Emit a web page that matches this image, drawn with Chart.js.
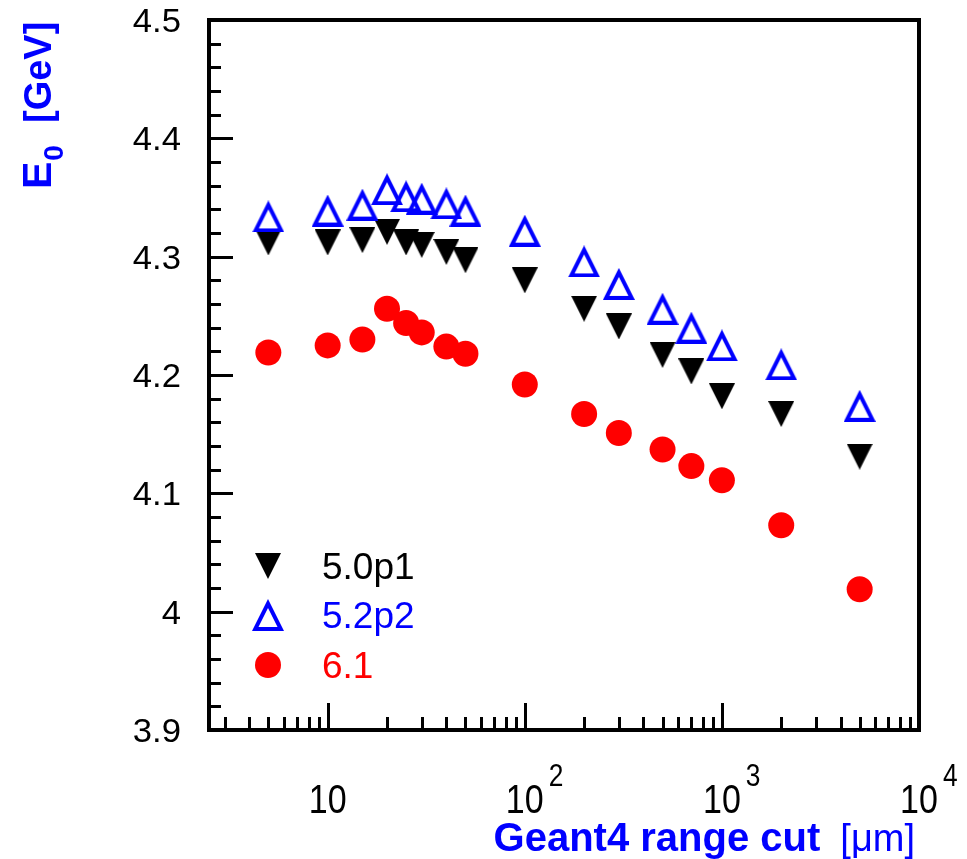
<!DOCTYPE html>
<html>
<head>
<meta charset="utf-8">
<title>E0 vs Geant4 range cut</title>
<script src="https://cdn.jsdelivr.net/npm/chart.js@4.4.1/dist/chart.umd.min.js"></script>
<style>
  html, body { margin: 0; padding: 0; background: #fff; }
  canvas { display: block; }
</style>
</head>
<body>
<canvas id="chart" width="967" height="859"></canvas>
<script>
// range cut values [um]
const rangeCuts = [5, 10, 15, 20, 25, 30, 40, 50, 100, 200, 300, 500, 700, 1000, 2000, 5000];

// E0 [GeV] per Geant4 version
const e0_v50p1 = [4.312, 4.312, 4.314, 4.321, 4.312, 4.310, 4.304, 4.297, 4.280, 4.256, 4.241, 4.217, 4.203, 4.182, 4.167, 4.131];
const e0_v52p2 = [4.334, 4.339, 4.344, 4.357, 4.351, 4.349, 4.345, 4.339, 4.322, 4.296, 4.277, 4.256, 4.240, 4.225, 4.209, 4.174];
const e0_v61   = [4.219, 4.225, 4.230, 4.256, 4.244, 4.236, 4.224, 4.218, 4.192, 4.167, 4.151, 4.137, 4.123, 4.111, 4.073, 4.019];

const seriesNames = ["5.0p1", "5.2p2", "6.1"];

// axes
const xMin = 2.5, xMax = 10000;
const yMin = 3.9, yMax = 4.5;
const yTickValues = [3.9, 4.0, 4.1, 4.2, 4.3, 4.4, 4.5];
const yTickLabels = ["3.9", "4", "4.1", "4.2", "4.3", "4.4", "4.5"];
const yMinorStep = 0.02;
const xTickValues = [10, 100, 1000, 10000];
const xTickBase = ["10", "10", "10", "10"];
const xTickSup = ["", "2", "3", "4"];

const xTitle = "Geant4 range cut";
const xTitleUnit = "[\u03bcm]";
const yTitle = "E";
const yTitleSub = "0";
const yTitleUnit = "[GeV]";

const BLUE = "#0000ff";
const RED = "#ff0000";
const FONT = "'Liberation Sans', Arial, Helvetica, sans-serif";

// ROOT-like markers as small canvases (centered on the bounding box)
function markerTriangleDown(size) {
  const c = document.createElement("canvas");
  c.width = size; c.height = size;
  const g = c.getContext("2d");
  g.fillStyle = "#000";
  g.beginPath();
  g.moveTo(0, 0); g.lineTo(size, 0); g.lineTo(size / 2, size);
  g.closePath();
  g.fill();
  return c;
}

function markerTriangleOpen(size, lw, color) {
  const c = document.createElement("canvas");
  c.width = size; c.height = size;
  const g = c.getContext("2d");
  const v = [[0, size], [size, size], [size / 2, 0]];
  // inset triangle via incenter scaling
  const side = (a, b) => Math.hypot(a[0] - b[0], a[1] - b[1]);
  const a = side(v[1], v[2]), b = side(v[0], v[2]), cc = side(v[0], v[1]);
  const p = a + b + cc;
  const ix = (a * v[0][0] + b * v[1][0] + cc * v[2][0]) / p;
  const iy = (a * v[0][1] + b * v[1][1] + cc * v[2][1]) / p;
  const area = Math.abs((v[1][0] - v[0][0]) * (v[2][1] - v[0][1]) - (v[2][0] - v[0][0]) * (v[1][1] - v[0][1])) / 2;
  const r = area / (p / 2);
  const k = (r - lw) / r;
  g.fillStyle = color;
  g.beginPath();
  g.moveTo(v[0][0], v[0][1]); g.lineTo(v[1][0], v[1][1]); g.lineTo(v[2][0], v[2][1]); g.closePath();
  const w = v.map(q => [ix + k * (q[0] - ix), iy + k * (q[1] - iy)]);
  g.moveTo(w[0][0], w[0][1]); g.lineTo(w[1][0], w[1][1]); g.lineTo(w[2][0], w[2][1]); g.closePath();
  g.fill("evenodd");
  return c;
}

const mkBlack = markerTriangleDown(26);
const mkBlue = markerTriangleOpen(32, 4, BLUE);

const toPoints = (ys) => rangeCuts.map((x, i) => ({ x: x, y: ys[i] }));

function text(ctx, str, x, y, font, color, align, sx) {
  ctx.save();
  ctx.font = font;
  ctx.fillStyle = color;
  ctx.textBaseline = "alphabetic";
  ctx.translate(x, y);
  ctx.scale(sx || 1, 1);
  ctx.textAlign = align || "left";
  ctx.fillText(str, 0, 0);
  ctx.restore();
}

// frame, inward ticks, labels, titles and legend in ROOT style
const rootFrame = {
  id: "rootFrame",
  afterDatasetsDraw(chart) {
    const ctx = chart.ctx;
    const a = chart.chartArea;
    const xs = chart.scales.x, ys = chart.scales.y;

    ctx.save();
    ctx.strokeStyle = "#000";
    ctx.lineWidth = 3;
    ctx.lineCap = "butt";

    // y ticks
    const nMinor = Math.round((yMax - yMin) / yMinorStep);
    for (let i = 0; i <= nMinor; i++) {
      const v = yMin + i * yMinorStep;
      const major = i % 5 === 0;
      const py = Math.round(ys.getPixelForValue(v)) + 0.5;
      ctx.beginPath();
      ctx.moveTo(a.left, py);
      ctx.lineTo(a.left + (major ? 24 : 12), py);
      ctx.stroke();
    }

    // x ticks (log)
    for (let d = 0; d <= 4; d++) {
      for (let m = 1; m <= 9; m++) {
        const v = m * Math.pow(10, d);
        if (v <= xMin || v > xMax) continue;
        const px = Math.round(xs.getPixelForValue(v)) + 0.5;
        ctx.beginPath();
        ctx.moveTo(px, a.bottom);
        ctx.lineTo(px, a.bottom - (m === 1 ? 27 : 13));
        ctx.stroke();
      }
    }

    // frame
    ctx.lineWidth = 4;
    ctx.strokeRect(a.left, a.top, a.right - a.left, a.bottom - a.top);
    ctx.restore();

    // y tick labels
    yTickValues.forEach((v, i) => {
      const py = ys.getPixelForValue(v);
      text(ctx, yTickLabels[i], 181, py + 12, "33px " + FONT, "#000", "right", 1.05);
    });

    // x tick labels 10^n
    xTickValues.forEach((v, i) => {
      const px = xs.getPixelForValue(v);
      text(ctx, xTickBase[i], px, 813, "40px " + FONT, "#000", "center", 0.85);
      if (xTickSup[i]) {
        ctx.save();
        ctx.font = "40px " + FONT;
        const w = ctx.measureText(xTickBase[i]).width * 0.85;
        ctx.restore();
        text(ctx, xTickSup[i], px + w / 2 + 5, 786, "31px " + FONT, "#000", "left", 0.85);
      }
    });

    // x title, right aligned to frame
    ctx.save();
    ctx.font = "38px " + FONT;
    const wUnit = ctx.measureText(xTitleUnit).width;
    ctx.restore();
    const xr = 915;
    text(ctx, xTitleUnit, xr, 851, "38px " + FONT, BLUE, "right");
    text(ctx, xTitle, xr - wUnit - 20, 851, "bold 40px " + FONT, BLUE, "right");

    // y title, rotated
    ctx.save();
    ctx.translate(51, 189);
    ctx.rotate(-Math.PI / 2);
    ctx.fillStyle = BLUE;
    ctx.textBaseline = "alphabetic";
    ctx.font = "bold 41px " + FONT;
    ctx.fillText(yTitle, 0, 0);
    const wE = ctx.measureText(yTitle).width;
    ctx.font = "bold 28px " + FONT;
    ctx.fillText(yTitleSub, wE + 1, 12);
    ctx.font = "bold 38px " + FONT;
    ctx.fillText(yTitleUnit, 66, 0);
    ctx.restore();

    // legend
    const legendRows = [566, 615, 665];
    const legendColors = ["#000", BLUE, RED];
    chart.data.datasets.forEach((ds, i) => {
      const yy = legendRows[i];
      const st = ds.pointStyle;
      if (st === "circle") {
        ctx.save();
        ctx.fillStyle = ds.backgroundColor;
        ctx.beginPath();
        ctx.arc(268, yy, ds.pointRadius, 0, Math.PI * 2);
        ctx.fill();
        ctx.restore();
      } else {
        ctx.drawImage(st, 268 - st.width / 2, yy - st.height / 2);
      }
      text(ctx, ds.label, 322, yy + 13, "37px " + FONT, legendColors[i], "left");
    });
  }
};

new Chart(document.getElementById("chart"), {
  type: "scatter",
  data: {
    datasets: [
      {
        label: seriesNames[0],
        data: toPoints(e0_v50p1),
        pointStyle: mkBlack,
        pointRadius: 13,
        backgroundColor: "#000",
        order: 1
      },
      {
        label: seriesNames[1],
        data: toPoints(e0_v52p2),
        pointStyle: mkBlue,
        pointRadius: 16,
        backgroundColor: BLUE,
        order: 0
      },
      {
        label: seriesNames[2],
        data: toPoints(e0_v61),
        pointStyle: "circle",
        pointRadius: 13,
        pointBorderWidth: 0,
        borderWidth: 0,
        backgroundColor: RED,
        order: 2
      }
    ]
  },
  options: {
    responsive: false,
    animation: false,
    layout: { padding: { left: 209, right: 48, top: 20, bottom: 129 } },
    plugins: { legend: { display: false }, tooltip: { enabled: false } },
    scales: {
      x: { type: "logarithmic", min: xMin, max: xMax, display: false },
      y: { type: "linear", min: yMin, max: yMax, display: false }
    }
  },
  plugins: [rootFrame]
});
</script>
</body>
</html>
